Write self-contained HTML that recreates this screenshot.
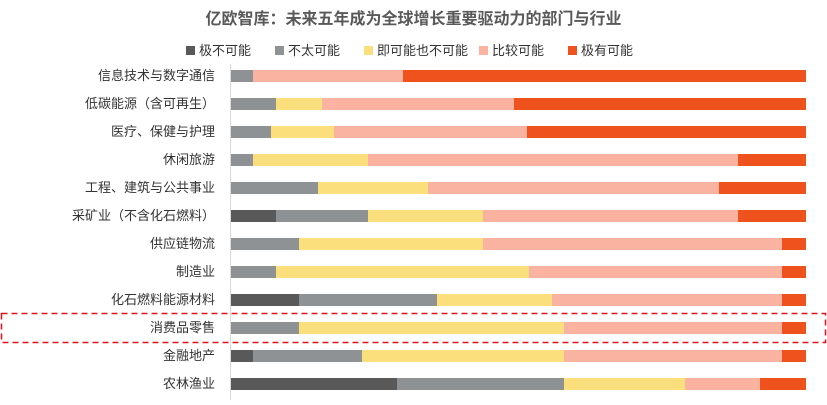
<!DOCTYPE html>
<html><head><meta charset="utf-8"><style>
body{margin:0;width:827px;height:405px;background:#fff;position:relative;overflow:hidden;font-family:"Liberation Sans","Noto Sans CJK SC",sans-serif;}
.t{position:absolute;left:0;width:827px;top:5px;text-align:center;font-size:16px;font-weight:bold;color:#595959;}
.lg{position:absolute;top:40px;font-size:13px;color:#333;white-space:nowrap}
.lg i{display:inline-block;width:9px;height:9px;margin-right:4px;vertical-align:0px}
.lb{position:absolute;right:612px;font-size:13px;color:#333;white-space:nowrap;line-height:16px}
.bar{position:absolute;left:231px;width:575px;height:12px;display:flex}
.bar span{height:100%}
.a{background:#595959}.b{background:#8f9295}.c{background:#fadf7c}.d{background:#f9b3a0}.e{background:#f0521e}
</style></head><body>
<div class="t">亿欧智库：未来五年成为全球增长重要驱动力的部门与行业</div>
<div class="lg" style="left:186px"><i class="a"></i>极不可能</div>
<div class="lg" style="left:275px"><i class="b"></i>不太可能</div>
<div class="lg" style="left:364px"><i class="c"></i>即可能也不可能</div>
<div class="lg" style="left:479px"><i class="d"></i>比较可能</div>
<div class="lg" style="left:568px"><i class="e"></i>极有可能</div>
<div style="position:absolute;left:230px;top:64px;width:1px;height:336px;background:#d9d9d9"></div>
<svg style="position:absolute;left:0;top:0" width="827" height="405"><rect x="1.5" y="313.5" width="824" height="29" fill="none" stroke="#e0141c" stroke-width="1.5" stroke-dasharray="6,4"/></svg>
<div id="c"></div>
<script>
var rows=[["信息技术与数字通信",[0,.038,0,.261,.701]],["低碳能源（含可再生）",[0,.079,.08,.334,.507]],["医疗、保健与护理",[0,.069,.111,.334,.486]],["休闲旅游",[0,.038,.2,.643,.119]],["工程、建筑与公共事业",[0,.151,.191,.506,.152]],["采矿业（不含化石燃料）",[.079,.159,.201,.442,.119]],["供应链物流",[0,.118,.321,.52,.041]],["制造业",[0,.079,.44,.44,.041]],["化石燃料能源材料",[.118,.241,.2,.4,.041]],["消费品零售",[0,.118,.462,.379,.041]],["金融地产",[.038,.19,.352,.379,.041]],["农林渔业",[.288,.292,.209,.131,.08]]];
var h="",cl="abcde";
rows.forEach(function(r,i){var y=76+28*i;h+='<div class="lb" style="top:'+(y-8)+'px">'+r[0]+'</div><div class="bar" style="top:'+(y-6)+'px">';r[1].forEach(function(v,j){if(v>0)h+='<span class="'+cl[j]+'" style="width:'+(v*100)+'%"></span>';});h+='</div>';});
document.getElementById("c").innerHTML=h;
</script>
</body></html>
